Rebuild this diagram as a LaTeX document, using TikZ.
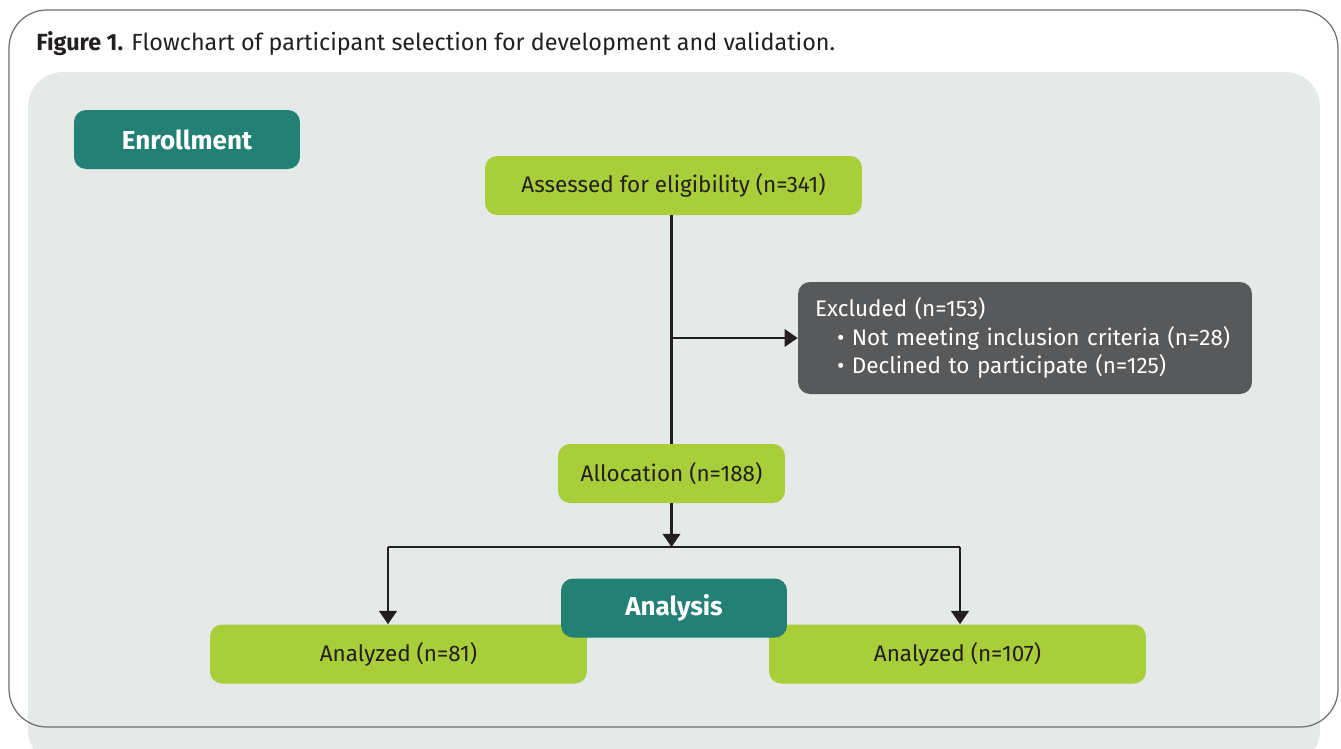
\documentclass[tikz,border=0pt]{standalone}
\usepackage{fontspec}
\setmainfont{Fira Sans}
\usetikzlibrary{arrows.meta}
\definecolor{flowteal}{RGB}{35,128,116}
\definecolor{flowgreen}{RGB}{168,206,58}
\definecolor{flowgrey}{RGB}{88,89,91}
\definecolor{panelgrey}{RGB}{229,233,232}
\definecolor{framegrey}{RGB}{110,110,110}
\definecolor{textblack}{RGB}{35,31,32}

\begin{document}
\begin{tikzpicture}[x=0.02cm, y=-0.02cm,
		box/.style={rounded corners=0.24cm, minimum width=7.54cm, minimum height=1.18cm, inner sep=0pt, fill=flowgreen, text=textblack, font=\fontsize{12.8}{15}\selectfont},
		stage/.style={rounded corners=0.24cm, minimum width=4.52cm, minimum height=1.18cm, inner sep=0pt, fill=flowteal, text=white, font=\fontsize{14.8}{17}\selectfont\bfseries},
		link/.style={line width=1.2pt, textblack},
		arr/.style={link, -{Triangle[width=10pt,length=7.5pt]}}]
			%%%%% START %%%%%
			
			\useasboundingbox (0, 0) rectangle (1341, 748);
			\clip (0, 0) rectangle (1341, 748);
			
			\fill[panelgrey, rounded corners=0.7cm] (28, 72) rectangle (1320, 765);
			\draw[framegrey, line width=0.7pt, rounded corners=0.76cm] (9, 10) rectangle (1338, 727);
			
			\node[anchor=base west, inner sep=0pt, text=textblack, font=\fontsize{13.3}{16}\selectfont] (title) at (36, 50)
				{\textbf{Figure 1.} Flowchart of participant selection for development and validation.};
			
			\node[stage] (enroll) at (187, 139.5) {Enrollment};
			
			\node[box] (assess) at (673.5, 185.5) {Assessed for eligibility (n=341)};
			
			\node[box, fill=flowgrey, text=white, minimum width=9.08cm, minimum height=2.24cm, text width=8.4cm, align=left, font=\fontsize{12.8}{16.2}\selectfont] (excl) at (1025, 338)
				{Excluded (n=153)\\
				\hspace*{0.44cm}• Not meeting inclusion criteria (n=28)\\
				\hspace*{0.44cm}• Declined to participate (n=125)};
			
			\node[box, minimum width=4.54cm] (alloc) at (671.5, 473.5) {Allocation (n=188)};
			
			\node[box] (anleft) at (398.5, 654) {Analyzed (n=81)};
			\node[box] (anright) at (957.5, 654) {Analyzed (n=107)};
			
			\node[stage] (analysis) at (674, 608) {Analysis};
			
			\draw[link] (alloc.north |- assess.south) -- (alloc.north);
			\draw[arr] (alloc.north |- excl.west) -- (excl.west);
			
			\coordinate (split) at (671.5, 547);
			\coordinate (splitleft) at (388, 547);
			\coordinate (splitright) at (960, 547);
			
			\draw[arr] (alloc.south) -- (split);
			\draw[link] (splitleft) -- (splitright);
			\draw[arr] (splitleft) -- (splitleft |- anleft.north);
			\draw[arr] (splitright) -- (splitright |- anright.north);
			
			%%%%% END %%%%%
\end{tikzpicture}
\end{document}
